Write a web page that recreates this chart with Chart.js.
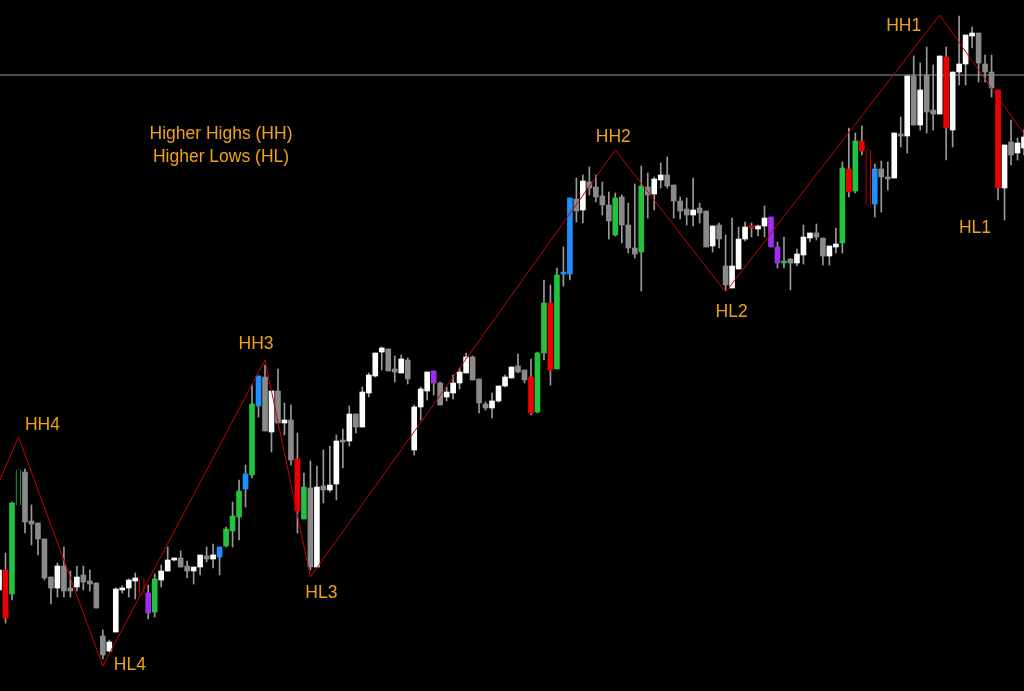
<!DOCTYPE html>
<html>
<head>
<meta charset="utf-8">
<script src="https://cdn.jsdelivr.net/npm/chart.js@4/dist/chart.umd.min.js"></script>
<style>
  html, body { margin: 0; padding: 0; background: #000; overflow: hidden; }
  #chartPrecio { display: block; }
</style>
</head>
<body>
<canvas id="chartPrecio" width="1024" height="691"></canvas>
<script>
// candles (price in points), one per bar index
const openP  = [101,121,97,186,219,170,168,152,114,103,125,103,104,116,110,108,55,40,59,101,103,110,112,98,79,111,120,131,133,125,120,124,135,132,134,145,160,174,202,216,
                285,314,259,300,268,271,232,172,203,124,205,201,207,251,250,277,264,298,315,339,342,322,318,331,241,284,300,320,308,294,298,308,318,334,312,287,283,290,305,313,
                325,321,314,279,338,388,322,417,417,492,481,509,504,495,486,456,494,466,443,439,504,497,511,516,506,490,482,476,483,480,445,466,425,403,422,452,465,462,465,474,
                444,428,432,428,436,453,458,453,435,444,448,522,500,550,541,487,522,514,513,557,555,615,566,616,581,577,634,561,619,627,655,658,627,619,601,503,549,538,543];
const closeP = [121,73,188,221,169,167,152,113,103,125,100,100,114,109,107,83,36,49,102,103,111,113,97,78,112,120,131,133,124,120,124,136,132,136,144,162,175,200,217,287,
                315,260,300,268,271,231,180,204,124,204,201,206,250,249,277,264,299,316,338,343,320,319,332,312,284,302,319,308,286,299,308,319,334,311,288,283,290,305,314,324,
                319,311,278,338,388,321,416,419,493,480,510,503,494,486,470,493,466,443,437,505,496,512,516,505,490,480,476,481,478,444,465,452,406,425,452,464,463,465,473,444,
                428,430,428,437,454,458,454,435,445,447,523,499,550,540,486,522,514,512,558,555,615,566,601,579,577,635,563,619,627,656,658,628,619,603,503,546,536,548,554];
const highP  = [126,138,189,221,222,186,168,152,114,128,144,120,125,125,121,108,61,51,103,105,112,118,112,106,117,126,144,133,140,130,124,136,144,147,144,164,189,211,226,306,
                315,326,300,322,288,286,258,218,230,225,241,245,256,262,285,277,304,318,338,344,342,335,336,333,286,304,319,320,309,304,316,323,338,335,312,289,298,305,316,324,
                337,321,332,339,411,406,423,444,493,513,516,524,516,509,499,498,496,488,507,525,518,514,528,534,506,494,493,513,488,480,465,468,456,473,464,469,468,466,485,474,
                449,454,432,442,466,458,467,453,445,463,529,563,558,565,541,527,530,529,558,574,615,635,628,644,626,635,644,619,675,656,664,658,636,636,601,546,571,553,561];
const lowP   = [96,68,91,186,158,146,136,111,87,94,94,94,100,101,100,83,32,39,59,98,94,92,97,72,74,104,120,130,124,113,107,116,129,123,116,144,144,151,184,213,
                274,260,239,268,256,226,158,172,121,124,188,199,191,223,245,258,264,294,314,321,320,309,318,307,236,271,291,296,286,290,292,302,318,311,278,281,273,289,304,313,
                318,308,276,278,331,306,322,405,411,469,468,496,489,476,452,455,448,438,433,400,473,481,503,503,473,472,466,465,468,444,439,443,401,403,422,450,454,455,454,444,
                423,423,401,425,427,449,451,426,426,438,438,494,498,536,486,474,479,501,513,544,538,566,561,558,561,577,531,544,606,606,643,609,609,594,491,471,526,531,536];
// bar state from the colouring indicator
// W up, K down, G strong up, R strong down, B breakout, P pullback, g / r inside bar
const barState = ['W','R','G','g','K','K','K','K','K','W','K','K','W','K','K','K','K','W','W','W','W','W','r','P','G','W','W','W','K','K','W','W','K','W','B','G','G','G','B','G',
                  'B','K','W','K','W','K','R','G','K','W','K','W','W','K','W','K','W','W','W','W','K','K','W','K','W','W','W','P','K','W','W','W','W','K','K','K','W','W','W','W',
                  'K','K','R','G','G','R','G','B','B','K','W','K','K','K','K','G','K','K','K','G','K','W','W','K','K','K','K','W','K','K','W','K','K','W','W','W','R','W','W','P',
                  'P','G','K','W','W','W','K','K','W','W','G','R','G','R','r','B','K','K','W','K','W','K','W','K','K','W','R','W','W','W','W','K','K','K','R','W','K','W','W'];

// zigzag swing points
const pivotIndex = [0, 3, 16, 41, 48, 95, 112, 145, 158];
const pivotPrice = [209, 254, 25, 331, 114, 541, 399, 676, 557];
const pivotName  = ['', 'HH4', 'HL4', 'HH3', 'HL3', 'HH2', 'HL2', 'HH1', 'HL1'];

const levelPrice = 616;
const noteLines = ['Higher Highs (HH)', 'Higher Lows (HL)'];

(() => {
  const colores = { W: '#ffffff', K: '#8a8a8a', G: '#22c23c', R: '#ee0000', B: '#1e8fff', P: '#a32cf2', g: '#22c23c', r: '#ee0000' };
  const hueco = s => s === 'g' || s === 'r';

  const wicks = openP.map((o, i) => ({ x: i, y: [lowP[i], highP[i]] }));
  const bodies = openP.map((o, i) => ({ x: i, y: [o, closeP[i]] }));
  const zigzag = pivotIndex.map((x, i) => ({ x: x, y: pivotPrice[i] }));
  const level = [{ x: 0, y: levelPrice }, { x: 158, y: levelPrice }];

  // label offsets from each swing point, in pixels
  const offs = [[0,0],[24,-12],[27,-1],[-9,-16],[11,16],[-2,-13],[6,20],[-36,11],[-49,94]];

  const textos = {
    id: 'textos',
    afterDatasetsDraw(chart) {
      const c = chart.ctx, xs = chart.scales.x, ys = chart.scales.y;
      c.save();
      c.fillStyle = '#eca31a';
      c.font = '17.5px "Liberation Sans", Arial, sans-serif';
      c.textAlign = 'center';
      c.textBaseline = 'middle';
      pivotName.forEach((n, i) => {
        if (!n) return;
        c.fillText(n, xs.getPixelForValue(pivotIndex[i]) + offs[i][0], ys.getPixelForValue(pivotPrice[i]) + offs[i][1]);
      });
      noteLines.forEach((t, i) => c.fillText(t, 221, 134 + i * 23));
      c.restore();
    }
  };

  const ctx = document.getElementById('chartPrecio').getContext('2d');

  new Chart(ctx, {
    type: 'bar',
    data: {
      datasets: [{
        type: 'line',
        label: 'zigzag',
        data: zigzag,
        borderColor: '#c80000',
        borderWidth: 1,
        pointRadius: 0,
        tension: 0,
        order: 0
      }, {
        label: 'cuerpo',
        data: bodies,
        backgroundColor: c => hueco(barState[c.dataIndex]) ? '#000' : colores[barState[c.dataIndex]],
        borderColor: c => colores[barState[c.dataIndex]],
        borderWidth: c => hueco(barState[c.dataIndex]) ? { left: 1, right: 1, top: 0, bottom: 0 } : 0,
        borderSkipped: false,
        barThickness: 5,
        grouped: false,
        order: 1
      }, {
        label: 'mecha',
        data: wicks,
        backgroundColor: '#9a9a9a',
        barThickness: 1,
        grouped: false,
        order: 2
      }, {
        type: 'line',
        label: 'nivel',
        data: level,
        borderColor: '#9a9a9a',
        borderWidth: 1,
        pointRadius: 0,
        order: 3
      }]
    },
    options: {
      responsive: false,
      animation: false,
      layout: { padding: 0 },
      plugins: {
        legend: { display: false },
        tooltip: { enabled: false }
      },
      scales: {
        x: { type: 'linear', min: 0.15, max: 158, offset: false, display: false },
        y: { min: 0, max: 691, display: false }
      }
    },
    plugins: [textos]
  });
})();
</script>
</body>
</html>
